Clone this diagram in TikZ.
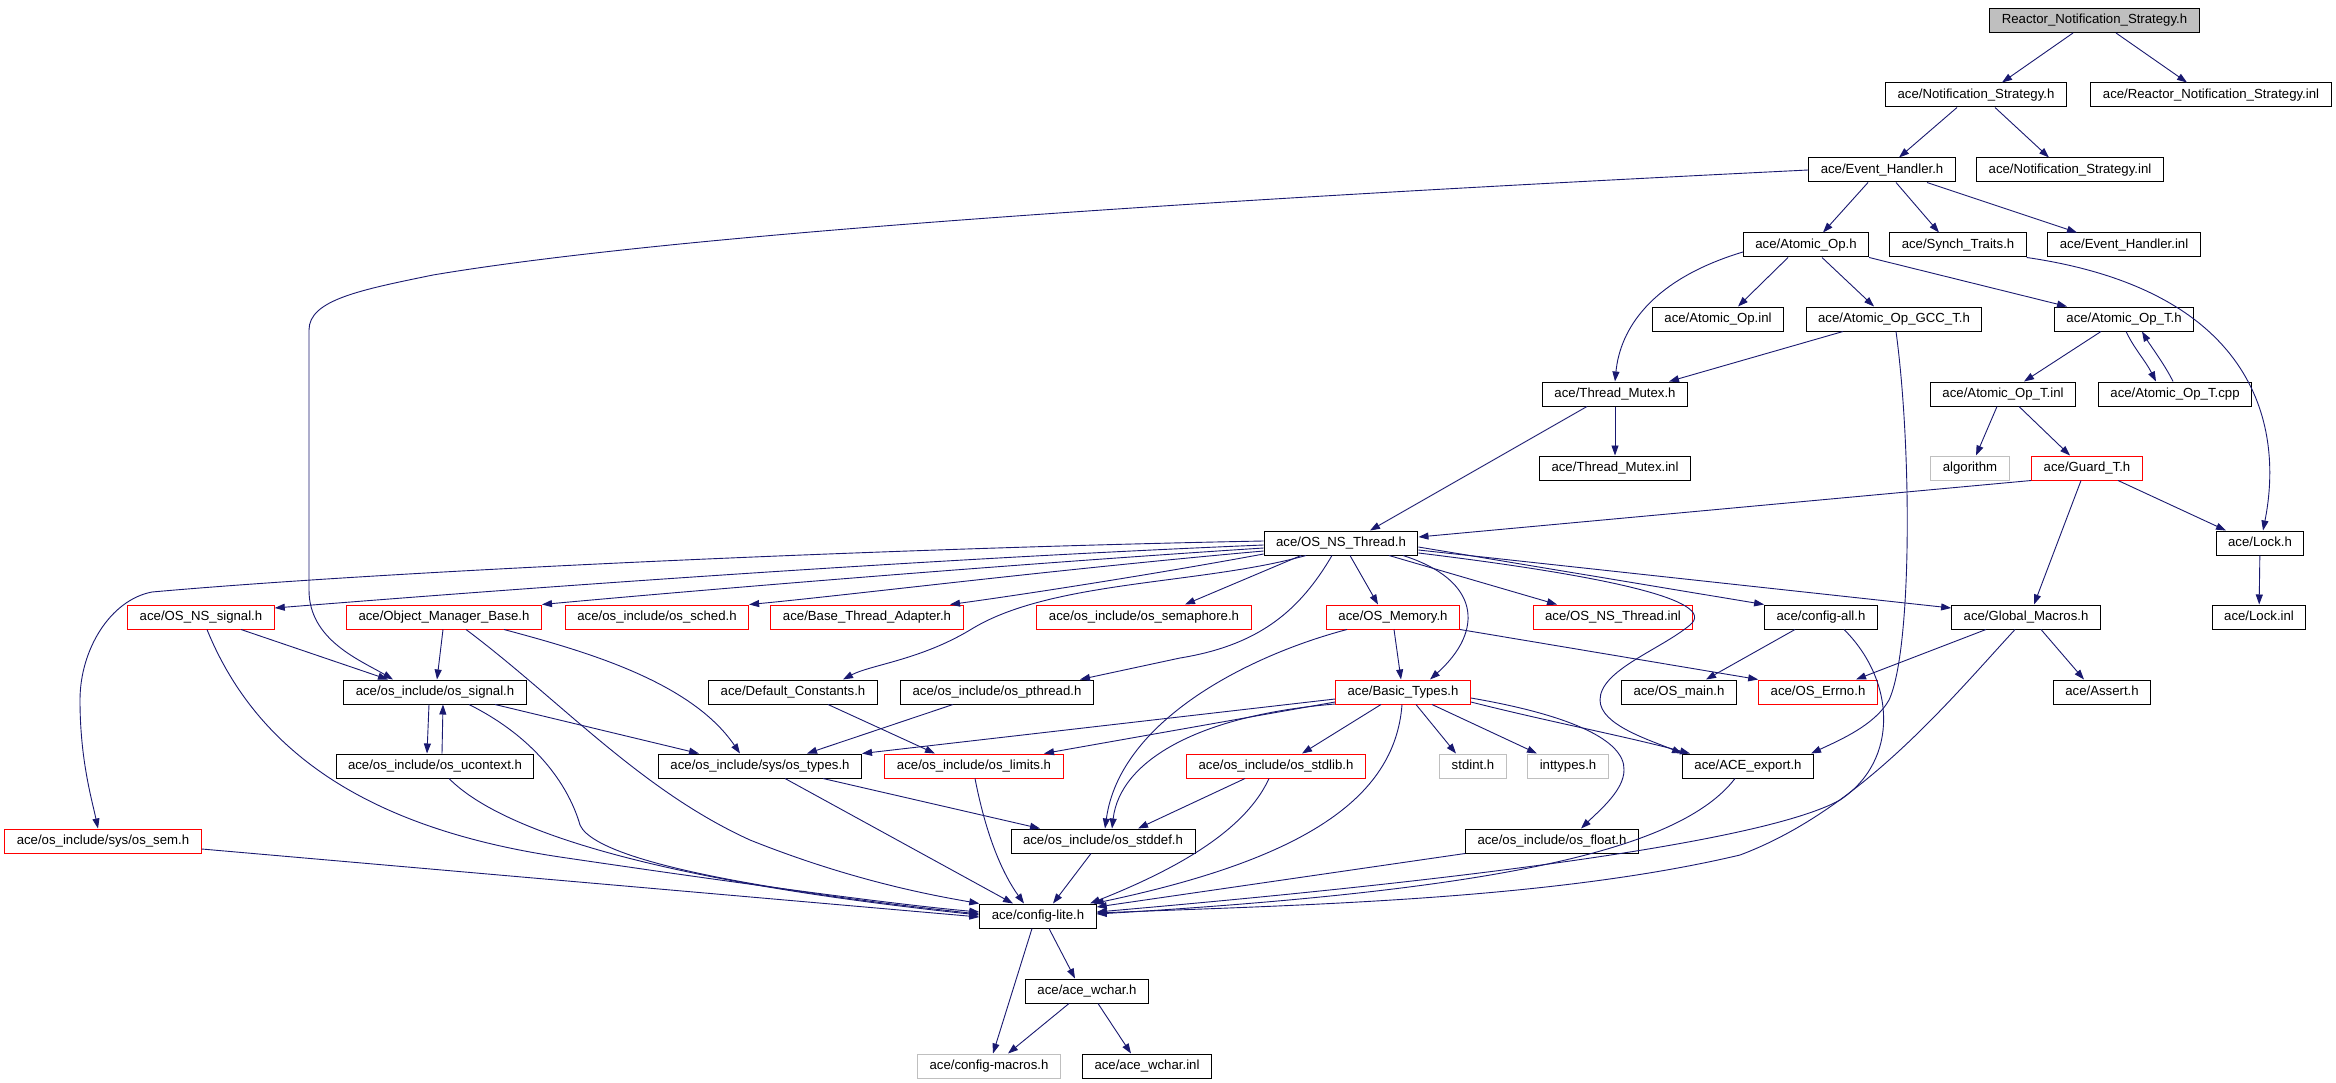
\documentclass[tikz,border=0pt]{standalone}
\usepackage{fontspec}
\setmainfont{Liberation Sans}
\usetikzlibrary{arrows.meta}
\definecolor{edgeblue}{HTML}{191970}
\definecolor{boxgray}{HTML}{BFBFBF}
\definecolor{boxred}{HTML}{FF0000}

\begin{document}
\begin{tikzpicture}[x=1pt, y=-1pt,
    hdr/.style = {draw, line width=1pt, rectangle, inner xsep=12pt, inner ysep=0pt, minimum height=24pt, text height=9.5pt, text depth=2.8pt, font=\fontsize{13.2}{15}\selectfont},
    redhdr/.style = {hdr, draw=boxred},
    syshdr/.style = {hdr, draw=boxgray},
    roothdr/.style = {hdr, fill=boxgray},
    incl/.style = {draw=edgeblue, line width=0.9pt, -{Triangle[length=10pt,width=7pt]}}]
    \useasboundingbox[fill=white] (0,0) rectangle (2336,1083);

    \node[roothdr] (n_rns) at (2094.5,20.5) {Reactor\_Notification\_Strategy.h};
    \node[hdr] (n_ns) at (1976,95) {ace/Notification\_Strategy.h};
    \node[hdr] (n_rnsi) at (2211,95) {ace/Reactor\_Notification\_Strategy.inl};
    \node[hdr] (n_eh) at (1882,170) {ace/Event\_Handler.h};
    \node[hdr] (n_nsi) at (2070,170) {ace/Notification\_Strategy.inl};
    \node[hdr] (n_aop) at (1806,245) {ace/Atomic\_Op.h};
    \node[hdr] (n_st) at (1958,245) {ace/Synch\_Traits.h};
    \node[hdr] (n_ehi) at (2124,245) {ace/Event\_Handler.inl};
    \node[hdr] (n_aopi) at (1718,319) {ace/Atomic\_Op.inl};
    \node[hdr] (n_gcc) at (1894,319) {ace/Atomic\_Op\_GCC\_T.h};
    \node[hdr] (n_aopt) at (2124,319) {ace/Atomic\_Op\_T.h};
    \node[hdr] (n_tm) at (1615,394) {ace/Thread\_Mutex.h};
    \node[hdr] (n_aopti) at (2003,394) {ace/Atomic\_Op\_T.inl};
    \node[hdr] (n_aoptc) at (2175,394) {ace/Atomic\_Op\_T.cpp};
    \node[hdr] (n_tmi) at (1615,468) {ace/Thread\_Mutex.inl};
    \node[syshdr] (n_alg) at (1970,468) {algorithm};
    \node[redhdr] (n_guard) at (2087,468) {ace/Guard\_T.h};
    \node[hdr] (n_osnst) at (1341,543) {ace/OS\_NS\_Thread.h};
    \node[hdr] (n_lock) at (2260,543) {ace/Lock.h};
    \node[redhdr] (n_nssig) at (201,617) {ace/OS\_NS\_signal.h};
    \node[redhdr] (n_omb) at (444,617) {ace/Object\_Manager\_Base.h};
    \node[redhdr] (n_sched) at (657,617) {ace/os\_include/os\_sched.h};
    \node[redhdr] (n_bta) at (867,617) {ace/Base\_Thread\_Adapter.h};
    \node[redhdr] (n_sema) at (1144,617) {ace/os\_include/os\_semaphore.h};
    \node[redhdr] (n_mem) at (1393,617) {ace/OS\_Memory.h};
    \node[redhdr] (n_osnsti) at (1613,617) {ace/OS\_NS\_Thread.inl};
    \node[hdr] (n_cfgall) at (1821,617) {ace/config-all.h};
    \node[hdr] (n_gm) at (2026,617) {ace/Global\_Macros.h};
    \node[hdr] (n_locki) at (2259,617) {ace/Lock.inl};
    \node[hdr] (n_sig) at (435,692) {ace/os\_include/os\_signal.h};
    \node[hdr] (n_dc) at (793,692) {ace/Default\_Constants.h};
    \node[hdr] (n_pthr) at (997,692) {ace/os\_include/os\_pthread.h};
    \node[redhdr] (n_bt) at (1403,692) {ace/Basic\_Types.h};
    \node[hdr] (n_main) at (1679,692) {ace/OS\_main.h};
    \node[redhdr] (n_errno) at (1818,692) {ace/OS\_Errno.h};
    \node[hdr] (n_assert) at (2102,692) {ace/Assert.h};
    \node[hdr] (n_uctx) at (435,766) {ace/os\_include/os\_ucontext.h};
    \node[hdr] (n_types) at (760,766) {ace/os\_include/sys/os\_types.h};
    \node[redhdr] (n_lim) at (974,766) {ace/os\_include/os\_limits.h};
    \node[redhdr] (n_stdlib) at (1276,766) {ace/os\_include/os\_stdlib.h};
    \node[syshdr] (n_stdint) at (1473,766) {stdint.h};
    \node[syshdr] (n_intt) at (1568,766) {inttypes.h};
    \node[hdr] (n_exp) at (1748,766) {ace/ACE\_export.h};
    \node[redhdr] (n_sem) at (103,841) {ace/os\_include/sys/os\_sem.h};
    \node[hdr] (n_stddef) at (1103,841) {ace/os\_include/os\_stddef.h};
    \node[hdr] (n_float) at (1552,841) {ace/os\_include/os\_float.h};
    \node[hdr] (n_lite) at (1038,916) {ace/config-lite.h};
    \node[hdr] (n_wchar) at (1087,991) {ace/ace\_wchar.h};
    \node[syshdr] (n_macros) at (989,1066) {ace/config-macros.h};
    \node[hdr] (n_wchari) at (1147,1066) {ace/ace\_wchar.inl};

    \draw[incl] ([xshift=-21.5]n_rns.south) -- ([xshift=26]n_ns.north);
    \draw[incl] ([xshift=21.5]n_rns.south) -- ([xshift=-24]n_rnsi.north);
    \draw[incl] ([xshift=-19]n_ns.south) -- ([xshift=17]n_eh.north);
    \draw[incl] ([xshift=19]n_ns.south) -- ([xshift=-21]n_nsi.north);
    \draw[incl] ([xshift=-14]n_eh.south) -- ([xshift=17]n_aop.north);
    \draw[incl] ([xshift=14]n_eh.south) -- ([xshift=-19]n_st.north);
    \draw[incl] ([xshift=45]n_eh.south) -- ([xshift=-47]n_ehi.north);
    \draw[incl] (n_eh.west) .. controls (1300,195) and (700,230) .. (433,275) .. controls (360,290) and (309,300) .. (309,330) -- (309,590) .. controls (309,640) and (360,660) .. ([xshift=-42]n_sig.north);
    \draw[incl] ([xshift=-18]n_aop.south) -- ([xshift=20]n_aopi.north);
    \draw[incl] ([xshift=16]n_aop.south) -- ([xshift=-20]n_gcc.north);
    \draw[incl] (n_aop.south east) -- ([xshift=-57]n_aopt.north);
    \draw[incl] ([yshift=-7]n_aop.west) .. controls (1650,280) and (1620,330) .. (n_tm.north);
    \draw[incl] (n_st.south east) .. controls (2250,290) and (2285,420) .. ([xshift=3]n_lock.north);
    \draw[incl] ([xshift=-51]n_gcc.south) -- ([xshift=54]n_tm.north);
    \draw[incl] ([xshift=2]n_gcc.south) .. controls (1912,450) and (1912,650) .. (1889,700) .. controls (1875,725) and (1840,740) .. ([xshift=63]n_exp.north);
    \draw[incl] (n_tm) -- (n_tmi);
    \draw[incl] ([xshift=-28]n_tm.south) -- ([xshift=29]n_osnst.north);
    \draw[incl] ([xshift=-23]n_aopt.south) -- ([xshift=21]n_aopti.north);
    \draw[incl] ([xshift=2]n_aopt.south) .. controls (2135,350) and (2145,360) .. ([xshift=-19]n_aoptc.north);
    \draw[incl] ([xshift=-2]n_aoptc.north) .. controls (2165,365) and (2150,345) .. ([xshift=18]n_aopt.south);
    \draw[incl] ([xshift=-6]n_aopti.south) -- ([xshift=6]n_alg.north);
    \draw[incl] ([xshift=16]n_aopti.south) -- ([xshift=-17]n_guard.north);
    \draw[incl] (n_guard.south west) -- ([yshift=6]n_osnst.east);
    \draw[incl] ([xshift=31]n_guard.south) -- ([xshift=-34]n_lock.north);
    \draw[incl] ([xshift=-6]n_guard.south) -- ([xshift=8]n_gm.north);
    \draw[incl] (n_lock) -- (n_locki);

    \draw[incl] ([yshift=2]n_osnst.west) .. controls (900,548) and (400,570) .. (152,592) .. controls (110,600) and (80,650) .. (80,700) .. controls (80,760) and (92,800) .. ([xshift=-5]n_sem.north);
    \draw[incl] ([yshift=-2]n_osnst.west) .. controls (900,560) and (500,590) .. ([yshift=9]n_nssig.east);
    \draw[incl] ([yshift=-5]n_osnst.west) .. controls (1000,565) and (700,590) .. (n_omb.north east);
    \draw[incl] ([yshift=-8]n_osnst.west) .. controls (1050,570) and (850,595) .. (n_sched.north east);
    \draw[incl] ([yshift=-11]n_osnst.west) .. controls (1150,575) and (1020,595) .. ([xshift=83]n_bta.north);
    \draw[incl] ([xshift=-40]n_osnst.south) -- ([xshift=41]n_sema.north);
    \draw[incl] ([xshift=-35]n_osnst.south) .. controls (1200,585) and (1050,580) .. (970,630) .. controls (920,660) and (870,665) .. ([xshift=50]n_dc.north);
    \draw[incl] ([xshift=-9]n_osnst.south) .. controls (1300,610) and (1260,645) .. (1180,658) -- ([xshift=83]n_pthr.north);
    \draw[incl] ([xshift=9]n_osnst.south) -- ([xshift=-15]n_mem.north);
    \draw[incl] ([xshift=62]n_osnst.south) .. controls (1480,580) and (1485,630) .. ([xshift=27]n_bt.north);
    \draw[incl] ([xshift=48]n_osnst.south) -- ([xshift=-56]n_osnsti.north);
    \draw[incl] ([yshift=-4]n_osnst.east) -- (n_cfgall.north west);
    \draw[incl] ([yshift=-7]n_osnst.east) -- ([yshift=9]n_gm.west);
    \draw[incl] ([yshift=-10]n_osnst.east) .. controls (1600,575) and (1720,600) .. (1690,625) .. controls (1660,650) and (1600,670) .. (1600,700) .. controls (1600,725) and (1650,740) .. ([xshift=-66]n_exp.north);

    \draw[incl] ([xshift=1]n_mem.south) -- ([xshift=-2]n_bt.north);
    \draw[incl] (n_mem.south east) -- (n_errno.north west);
    \draw[incl] ([xshift=-46]n_mem.south) .. controls (1250,655) and (1120,720) .. ([xshift=2]n_stddef.north);
    \draw[incl] ([xshift=-26]n_cfgall.south) -- ([xshift=27]n_main.north);
    \draw[incl] ([xshift=23]n_cfgall.south) .. controls (1895,680) and (1900,760) .. (1840,800) .. controls (1750,850) and (1350,890) .. ([yshift=4]n_lite.east);
    \draw[incl] ([xshift=-40]n_gm.south) -- ([xshift=38]n_errno.north);
    \draw[incl] ([xshift=15]n_gm.south) -- ([xshift=-18]n_assert.north);
    \draw[incl] ([xshift=-11]n_gm.south) .. controls (1950,700) and (1860,810) .. (1740,855) .. controls (1550,900) and (1300,905) .. ([yshift=3]n_lite.east);

    \draw[incl] ([yshift=-7]n_bt.west) -- (n_types.north east);
    \draw[incl] ([yshift=-10]n_bt.west) -- ([xshift=70]n_lim.north);
    \draw[incl] ([yshift=-12]n_bt.west) .. controls (1200,715) and (1120,760) .. ([xshift=9]n_stddef.north);
    \draw[incl] ([xshift=-22]n_bt.south) -- ([xshift=26]n_stdlib.north);
    \draw[incl] ([xshift=13]n_bt.south) -- ([xshift=-17]n_stdint.north);
    \draw[incl] ([xshift=29]n_bt.south) -- ([xshift=-31]n_intt.north);
    \draw[incl] ([yshift=-10]n_bt.east) .. controls (1550,722) and (1620,735) .. ([xshift=-58]n_exp.north);
    \draw[incl] ([yshift=-6]n_bt.east) .. controls (1570,715) and (1625,740) .. (1624,770) .. controls (1624,790) and (1600,810) .. ([xshift=29]n_float.north);
    \draw[incl] ([xshift=-1]n_bt.south) .. controls (1395,800) and (1300,860) .. ([xshift=-3]n_lite.north east);

    \draw[incl] ([xshift=40]n_nssig.south) -- ([xshift=-47]n_sig.north);
    \draw[incl] ([xshift=6]n_nssig.south) .. controls (260,760) and (380,830) .. (560,857) .. controls (750,885) and (900,905) .. ([yshift=4]n_lite.west);
    \draw[incl] ([xshift=-1]n_omb.south) -- ([xshift=2]n_sig.north);
    \draw[incl] ([xshift=60]n_omb.south) .. controls (580,650) and (690,680) .. ([xshift=-20]n_types.north);
    \draw[incl] ([xshift=22]n_omb.south) .. controls (560,700) and (640,790) .. (750,840) .. controls (850,880) and (930,895) .. (n_lite.north west);
    \draw[incl] ([xshift=-6]n_sig.south) -- ([xshift=-8]n_uctx.north);
    \draw[incl] ([xshift=7]n_uctx.north) -- ([xshift=8]n_sig.south);
    \draw[incl] ([xshift=60]n_sig.south) -- ([xshift=-61]n_types.north);
    \draw[incl] ([xshift=34]n_sig.south) .. controls (540,740) and (570,790) .. (580,825) .. controls (600,870) and (850,900) .. ([yshift=2]n_lite.west);
    \draw[incl] ([xshift=14]n_uctx.south) .. controls (500,830) and (650,880) .. ([yshift=1]n_lite.west);
    \draw[incl] ([xshift=35]n_dc.south) -- ([xshift=-39]n_lim.north);
    \draw[incl] ([xshift=-44]n_pthr.south) -- ([xshift=47]n_types.north);
    \draw[incl] ([xshift=63]n_types.south) -- ([xshift=-63]n_stddef.north);
    \draw[incl] ([xshift=25]n_types.south) -- ([xshift=-25]n_lite.north);
    \draw[incl] ([xshift=1]n_lim.south) .. controls (985,830) and (1000,870) .. ([xshift=-14]n_lite.north);
    \draw[incl] ([xshift=-31]n_stdlib.south) -- ([xshift=35]n_stddef.north);
    \draw[incl] ([xshift=-7]n_stdlib.south) .. controls (1250,820) and (1200,860) .. ([xshift=52]n_lite.north);
    \draw[incl] ([xshift=-12]n_stddef.south) -- ([xshift=15]n_lite.north);
    \draw[incl] (n_float.south west) -- ([yshift=9]n_lite.east);
    \draw[incl] ([xshift=-13]n_exp.south) .. controls (1680,850) and (1500,890) .. ([yshift=2]n_lite.east);
    \draw[incl] ([yshift=-8]n_sem.east) -- ([yshift=-1]n_lite.west);
    \draw[incl] ([xshift=11]n_lite.south) -- ([xshift=-12]n_wchar.north);
    \draw[incl] ([xshift=-6]n_lite.south) -- ([xshift=4]n_macros.north);
    \draw[incl] ([xshift=-18]n_wchar.south) -- ([xshift=19]n_macros.north);
    \draw[incl] ([xshift=11]n_wchar.south) -- ([xshift=-16]n_wchari.north);
\end{tikzpicture}
\end{document}
